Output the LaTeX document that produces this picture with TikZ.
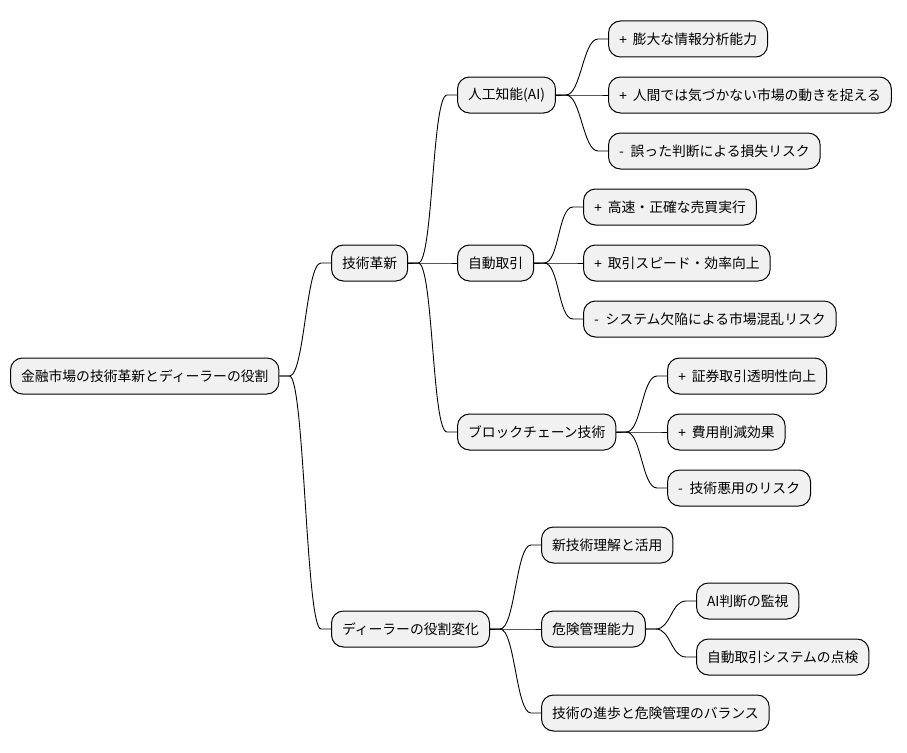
\documentclass[tikz,border=0pt]{standalone}
\usepackage{fontspec}
\setmainfont{Noto Sans CJK JP}
\newfontfamily\latf{Liberation Sans}
\usetikzlibrary{calc}
\definecolor{boxfill}{HTML}{F1F1F1}
\tikzset{
  mbox/.style={draw=black, fill=boxfill, line width=1pt, rounded corners=12pt,
    minimum height=36pt, inner xsep=10.5pt, inner ysep=0pt, anchor=west,
    font=\fontsize{13.8pt}{16pt}\selectfont, text=black},
  conn/.style={draw=black, line width=0.9pt}
}
\newcommand{\mmlink}[2]{\draw[conn] (#1.east) -- ++(10pt,0) .. controls +(15pt,0) and +(-15pt,0) .. ([xshift=-10pt]#2.west) -- (#2.west);}
\newcommand{\pls}{{\latf +}\hspace{0.42em}}
\newcommand{\mns}{-\hspace{0.5em}}
\begin{document}
\begin{tikzpicture}[x=1pt,y=-1pt]
\useasboundingbox (0,0) rectangle (907,752);
\node[mbox] (root) at (10,376) {金融市場の技術革新とディーラーの役割};
\node[mbox] (tech) at (331,263) {技術革新};
\node[mbox] (ai) at (457,95) {人工知能(AI)};
\node[mbox] (ai1) at (608,39) {\pls 膨大な情報分析能力};
\node[mbox] (ai2) at (608,95) {\pls 人間では気づかない市場の動きを捉える};
\node[mbox] (ai3) at (608,151) {\mns 誤った判断による損失リスク};
\node[mbox] (auto) at (457,263) {自動取引};
\node[mbox] (au1) at (583,207) {\pls 高速・正確な売買実行};
\node[mbox] (au2) at (583,263) {\pls 取引スピード・効率向上};
\node[mbox] (au3) at (583,319) {\mns システム欠陥による市場混乱リスク};
\node[mbox] (bc) at (457,432) {ブロックチェーン技術};
\node[mbox] (bc1) at (667,376) {\pls 証券取引透明性向上};
\node[mbox] (bc2) at (667,432) {\pls 費用削減効果};
\node[mbox] (bc3) at (667,488) {\mns 技術悪用のリスク};
\node[mbox] (dealer) at (331,629) {ディーラーの役割変化};
\node[mbox] (d1) at (541,545) {新技術理解と活用};
\node[mbox] (d2) at (541,629) {危険管理能力};
\node[mbox] (d21) at (696,601) {AI判断の監視};
\node[mbox] (d22) at (696,657) {自動取引システムの点検};
\node[mbox] (d3) at (541,713) {技術の進歩と危険管理のバランス};
\mmlink{root}{tech}
\mmlink{root}{dealer}
\mmlink{tech}{ai}
\mmlink{tech}{auto}
\mmlink{tech}{bc}
\mmlink{ai}{ai1}
\mmlink{ai}{ai2}
\mmlink{ai}{ai3}
\mmlink{auto}{au1}
\mmlink{auto}{au2}
\mmlink{auto}{au3}
\mmlink{bc}{bc1}
\mmlink{bc}{bc2}
\mmlink{bc}{bc3}
\mmlink{dealer}{d1}
\mmlink{dealer}{d2}
\mmlink{dealer}{d3}
\mmlink{d2}{d21}
\mmlink{d2}{d22}
\end{tikzpicture}
\end{document}
